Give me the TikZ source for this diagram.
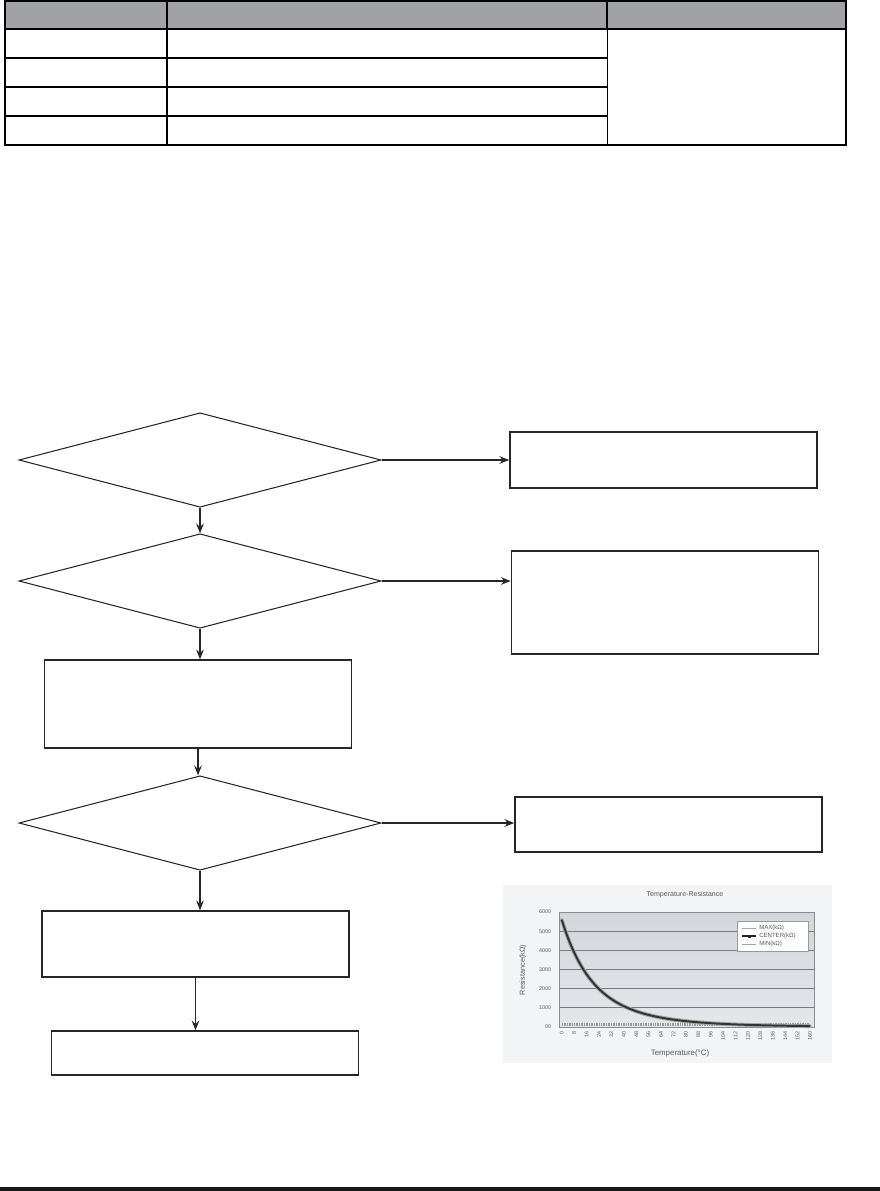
\documentclass[tikz,border=0pt]{standalone}
\usepackage{fontspec}
\setsansfont{Liberation Sans}
\usetikzlibrary{shapes.geometric,arrows.meta,positioning}

\definecolor{headgray}{RGB}{160,162,166}
\definecolor{chartbg}{RGB}{243,244,245}
\definecolor{plottop}{RGB}{210,214,219}
\definecolor{plotbot}{RGB}{228,231,234}
\definecolor{gridgray}{RGB}{120,122,126}

\begin{document}
\begin{tikzpicture}[x=0.025cm, y=-0.025cm,
    decision/.style={diamond, draw=black!85, line width=0.75pt, inner sep=0pt,
      minimum width=9.05cm, minimum height=2.36cm},
    stepbox/.style={rectangle, draw=black!85, line width=1pt, inner sep=0pt,
      minimum width=7.68cm},
    flow/.style={draw=black!85, line width=0.8pt,
      -{Stealth[length=7pt, width=5.5pt, inset=2.5pt]}},
    chartfont/.style={font=\sffamily\fontsize{3.8}{4.4}\selectfont, text=black!65}]
  \useasboundingbox (0,0) rectangle (880,1191);

  % Table
  \fill[headgray] (5,1) rectangle (846,29);
  \foreach \y in {58,87,116}
    \draw[line width=0.9pt] (5,\y) -- (607,\y);
  \draw[line width=0.9pt] (5,29) -- (846,29);
  \draw[line width=0.9pt] (167,1) -- (167,145);
  \draw[line width=0.9pt] (607,1) -- (607,29);
  \draw[line width=0.5pt] (607,29) -- (607,145);
  \draw[line width=1.2pt] (5,1) rectangle (846,145);

  % Decisions
  \node[decision] (dec1) at (200,460) {};
  \node[decision] (dec2) at (200,581) {};
  \node[decision] (dec3) at (200,823) {};

  % Boxes
  \node[stepbox, minimum height=1.4cm] (box1) at (663.5,460) {};
  \node[stepbox, minimum height=2.575cm] (box2) at (665,602.5) {};
  \node[stepbox, minimum height=2.2cm] (box3) at (198,704) {};
  \node[stepbox, minimum height=1.375cm] (box4) at (668.5,824.5) {};
  \node[stepbox, minimum height=1.65cm] (box5) at (195.5,944) {};
  \node[stepbox, minimum height=1.1cm] (box6) at (205,1053) {};

  % Connectors
  \draw[flow] (dec1.east) -- (box1.west);
  \draw[flow] (dec1.south) -- (dec2.north);
  \draw[flow] (dec2.east) -- (dec2.east -| box2.west);
  \draw[flow] (dec2.south) -- (dec2.south |- box3.north);
  \draw[flow] (box3.south) -- (box3.south |- dec3.north);
  \draw[flow] (dec3.east) -- (dec3.east -| box4.west);
  \draw[flow] (dec3.south) -- (dec3.south |- box5.north);
  \draw[flow] (box5.south) -- (box5.south |- box6.north);

  % Chart
  \fill[chartbg] (503,885) rectangle (832,1063);
  \shade[top color=plottop, bottom color=plotbot] (559,912) rectangle (814,1027);
  \foreach \v/\lab in {0/00,1000/1000,2000/2000,3000/3000,4000/4000,5000/5000,6000/6000} {
    \draw[gridgray, line width=0.6pt] (559,{1027-0.019167*\v}) -- (814,{1027-0.019167*\v});
    \node[chartfont, anchor=east] at (556,{1027-0.019167*\v}) {\lab};
  }
  \draw[black!45, line width=0.5pt] (559,912) rectangle (814,1027);
  \foreach \t in {0,8,...,160}
    \node[chartfont, rotate=90, anchor=east, inner sep=1pt] at ({561.7+1.552*\t},1030) {\t};
  % MIN row along the bottom
  \draw[black!40, line width=2.4pt, dash pattern=on 0.5pt off 0.7pt] (562,1024.5) -- (810,1024.5);
  % MAX / CENTER curves
  \draw[black!35, line width=2.8pt, line cap=round]
    plot[domain=0:160, samples=81] ({561.7+1.552*\x}, {1027-107.33*exp(-12.82*\x/(\x+273))});
  \draw[black!80, line width=1.4pt]
    plot[domain=0:160, samples=81] ({561.7+1.552*\x}, {1027-107.33*exp(-12.82*\x/(\x+273))});
  % Legend
  \draw[black!40, fill=white, line width=0.4pt] (737,921) rectangle (808,951);
  \draw[black!35, line width=0.5pt] (742,928) -- (756,928);
  \draw[black!85, line width=0.9pt] (742,936) -- (756,936);
  \fill[black!85] (747.5,934.5) rectangle (750.5,937.5);
  \draw[black!35, line width=0.5pt] (742,944) -- (756,944);
  \node[chartfont, font=\sffamily\fontsize{4.3}{5}\selectfont, anchor=west, inner sep=0pt] at (759,928) {MAX(kΩ)};
  \node[chartfont, font=\sffamily\fontsize{4.3}{5}\selectfont, anchor=west, inner sep=0pt] at (759,936) {CENTER(kΩ)};
  \node[chartfont, font=\sffamily\fontsize{4.3}{5}\selectfont, anchor=west, inner sep=0pt] at (759,944) {MIN(kΩ)};
  % Titles
  \node[chartfont, font=\sffamily\fontsize{5}{6}\selectfont] at (685,895) {Temperature-Resistance};
  \node[chartfont, font=\sffamily\fontsize{5.2}{6}\selectfont, rotate=90] at (523,970) {Resistance(kΩ)};
  \node[chartfont, font=\sffamily\fontsize{5.6}{6.5}\selectfont] at (680,1053) {Temperature(°C)};

  % Page rule
  \draw[black!90, line width=2.2pt] (0,1189) -- (880,1189);
\end{tikzpicture}
\end{document}
